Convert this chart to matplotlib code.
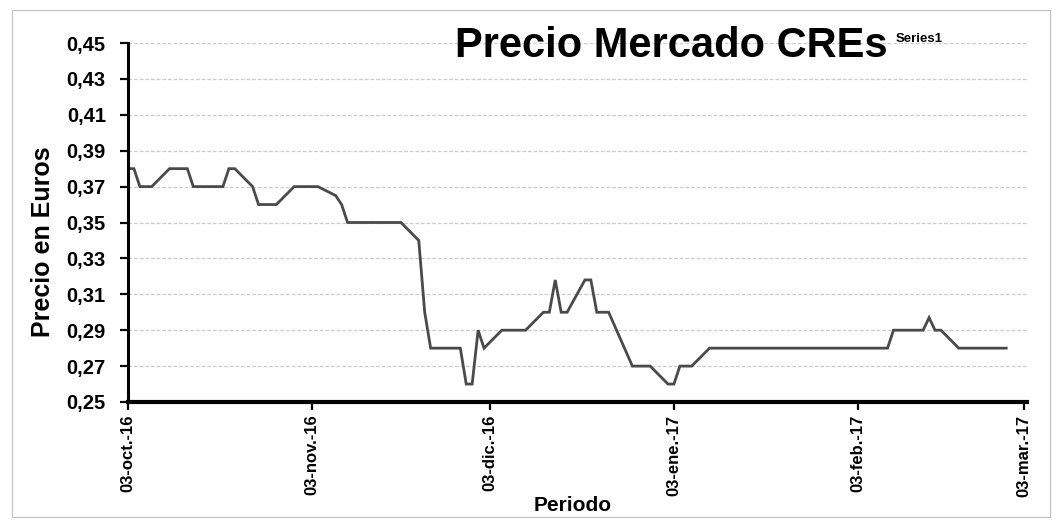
import matplotlib
matplotlib.use("Agg")
import matplotlib.pyplot as plt
import matplotlib.dates as mdates
import matplotlib.transforms as mtransforms
from matplotlib.patches import Rectangle
import pandas as pd

plt.rcParams["font.family"] = ["Liberation Sans", "DejaVu Sans"]

# Trading days (business days) of the CRE market
dias_oct = [3, 4, 5, 6, 7, 10, 11, 12, 13, 14, 17, 18, 19, 20, 21, 24, 25, 26, 27, 28, 31]
dias_nov = [1, 2, 3, 4, 7, 8, 9, 10, 11, 14, 15, 16, 17, 18, 21, 22, 23, 24, 25, 28, 29, 30]
dias_dic = [1, 2, 5, 6, 7, 8, 9, 12, 13, 14, 15, 16, 19, 20, 21, 22, 23, 27, 28, 29, 30]
dias_ene = [2, 3, 4, 5, 6, 9, 10, 11, 12, 13, 16, 17, 18, 19, 20, 23, 24, 25, 26, 27, 30, 31]
dias_feb = [1, 2, 3, 6, 7, 8, 9, 10, 13, 14, 15, 16, 17, 20, 21, 22, 23, 24, 27, 28]

# Price in euros for each trading day
precio_oct = [0.38, 0.38, 0.37, 0.37, 0.37, 0.38, 0.38, 0.38, 0.38, 0.37,
              0.37, 0.37, 0.37, 0.38, 0.38, 0.37, 0.36, 0.36, 0.36, 0.36, 0.37]
precio_nov = [0.37, 0.37, 0.37, 0.37, 0.365, 0.36, 0.35, 0.35, 0.35, 0.35,
              0.35, 0.35, 0.35, 0.35, 0.34, 0.30, 0.28, 0.28, 0.28, 0.28, 0.26, 0.26]
precio_dic = [0.29, 0.28, 0.29, 0.29, 0.29, 0.29, 0.29, 0.30, 0.30, 0.318,
              0.30, 0.30, 0.318, 0.318, 0.30, 0.30, 0.30, 0.27, 0.27, 0.27, 0.27]
precio_ene = [0.26, 0.26, 0.27, 0.27, 0.27, 0.28, 0.28, 0.28, 0.28, 0.28, 0.28,
              0.28, 0.28, 0.28, 0.28, 0.28, 0.28, 0.28, 0.28, 0.28, 0.28, 0.28]
precio_feb = [0.28, 0.28, 0.28, 0.28, 0.28, 0.28, 0.29, 0.29, 0.29, 0.29,
              0.297, 0.29, 0.29, 0.28, 0.28, 0.28, 0.28, 0.28, 0.28, 0.28]

# Axis tick labels
yticks = [0.25, 0.27, 0.29, 0.31, 0.33, 0.35, 0.37, 0.39, 0.41, 0.43, 0.45]
xticks = ["2016-10-03", "2016-11-03", "2016-12-03", "2017-01-03", "2017-02-03", "2017-03-03"]
xtick_labels = ["03-oct.-16", "03-nov.-16", "03-dic.-16", "03-ene.-17", "03-feb.-17", "03-mar.-17"]

fechas = (
    [pd.Timestamp(2016, 10, d) for d in dias_oct]
    + [pd.Timestamp(2016, 11, d) for d in dias_nov]
    + [pd.Timestamp(2016, 12, d) for d in dias_dic]
    + [pd.Timestamp(2017, 1, d) for d in dias_ene]
    + [pd.Timestamp(2017, 2, d) for d in dias_feb]
)
precios = precio_oct + precio_nov + precio_dic + precio_ene + precio_feb

W, H = 1058, 520
fig = plt.figure(figsize=(W / 100, H / 100), dpi=100)
fig.patch.set_facecolor("white")

# Outer chart frame
fig.add_artist(Rectangle((12 / W, 1 - 517 / H), (1050 - 12) / W, (517 - 10) / H,
                         transform=fig.transFigure, fill=False,
                         edgecolor="#c4c4c4", linewidth=0.9))

ax = fig.add_axes([128 / W, 1 - 402 / H, (1027 - 128) / W, (402 - 43) / H])

ax.plot(fechas, precios, color="#4a4a4a", linewidth=2.0, solid_joinstyle="miter")

ax.set_xlim(pd.Timestamp("2016-10-03"), pd.Timestamp("2017-03-03 12:00"))
ax.set_ylim(0.25, 0.45)

ax.set_yticks(yticks)
ax.set_yticklabels([f"{v:.2f}".replace(".", ",") for v in yticks],
                   fontsize=14.5, fontweight="bold")
ax.set_xticks([pd.Timestamp(t) for t in xticks])
ax.set_xticklabels(xtick_labels, rotation=90, fontsize=12, fontweight="bold",
                   ha="center", va="top")

shift = mtransforms.ScaledTranslation(5 / 100, 0, fig.dpi_scale_trans)
for lab in ax.get_xticklabels():
    lab.set_transform(lab.get_transform() + shift)

ax.tick_params(axis="y", direction="out", length=6, width=1.6, pad=10, colors="black")
ax.tick_params(axis="x", direction="out", length=6, width=1.6, pad=3, colors="black")

ax.yaxis.grid(True, color="#cccccc", linewidth=0.9, linestyle=(0, (3, 1.5)))
ax.set_axisbelow(True)

for side in ("top", "right"):
    ax.spines[side].set_visible(False)
ax.spines["left"].set_linewidth(2.2)
ax.spines["bottom"].set_linewidth(3.0)

fig.text(455 / W, 1 - 57 / H, "Precio Mercado CREs", fontsize=30,
         fontweight="bold", ha="left", va="baseline")
fig.text(896 / W, 1 - 42 / H, "Series1", fontsize=9.5,
         fontweight="bold", ha="left", va="baseline")
fig.text(43 / W, 1 - 242 / H, "Precio en Euros", rotation=90, fontsize=18,
         fontweight="bold", ha="center", va="center")
fig.text(573 / W, 1 - 511 / H, "Periodo", fontsize=15,
         fontweight="bold", ha="center", va="baseline")

fig.savefig("out.png", dpi=100, facecolor="white")
